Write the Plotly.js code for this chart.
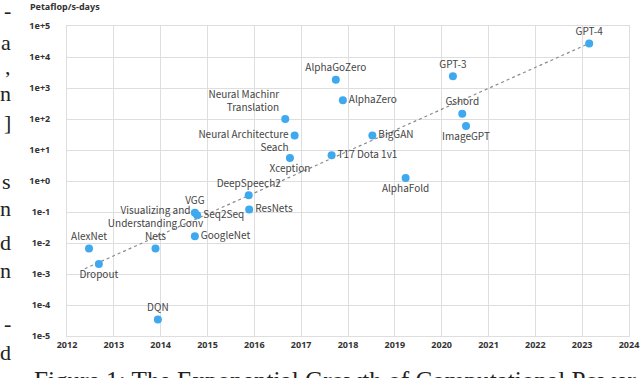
<!DOCTYPE html>
<html>
<head>
<meta charset="utf-8">
<script src="https://cdn.plot.ly/plotly-3.0.1.min.js"></script>
<style>
  html, body { margin: 0; padding: 0; background: #fff; }
  #chart { width: 640px; height: 378px; }
</style>
</head>
<body>
<div id="chart"></div>
<script>
"use strict"

// models
var models = ['AlexNet', 'Dropout', 'Visualizing and<br>Understanding Conv<br>Nets', 'DQN', 'VGG',
	'Seq2Seq', 'GoogleNet', 'DeepSpeech2', 'ResNets', 'Neural Machinr<br>Translation', 'Xception',
	'&#160;<br>Neural Architecture<br>Seach', 'T17 Dota 1v1', 'AlphaGoZero', 'AlphaZero', 'BigGAN',
	'AlphaFold', 'GPT-3', 'Gshord', 'ImageGPT', 'GPT-4'];
var years = [2012.47, 2012.68, 2013.89, 2013.94, 2014.73,
	2014.78, 2014.73, 2015.88, 2015.89, 2016.66, 2016.76,
	2016.86, 2017.65, 2017.74, 2017.89, 2018.52,
	2019.23, 2020.24, 2020.44, 2020.52, 2023.15];
var petaflopDays = [0.0066, 0.0021, 0.0066, 3.4e-5, 0.095,
	0.078, 0.0166, 0.35, 0.12, 100, 5.5,
	29.6, 6.8, 1860, 400, 29.6,
	1.25, 2400, 147, 59, 27500];
var labelPos = ['top center', 'bottom center', 'top center', 'top center', 'top center',
	'middle right', 'middle right', 'top center', 'middle right', 'top left', 'bottom center',
	'middle left', 'middle right', 'top center', 'middle right', 'middle right',
	'bottom center', 'top center', 'top center', 'bottom center', 'top center'];

// dotted trend line end points
var trendYears = [2012.38, 2023.15];
var trendValues = [0.00148, 27500];

var yearTicks = [2012, 2013, 2014, 2015, 2016, 2017, 2018, 2019, 2020, 2021, 2022, 2023, 2024];
var powerTicks = [1e-5, 1e-4, 1e-3, 1e-2, 1e-1, 1, 10, 100, 1000, 1e4, 1e5];
var powerLabels = ['1e-5', '1e-4', '1e-3', '1e-2', '1e-1', '1e+0', '1e+1', '1e+2', '1e+3', '1e+4', '1e+5'];

// fragments of the surrounding paper page
var sideChars = ['-', 'a', ',', 'n', ']', 's', 'n', 'd', 'n', '-', 'd'];
var sideCharY = [10, 42, 66, 93, 122, 182, 208, 242, 270, 323, 352];
var caption = 'Figure 1: The Exponential Growth of Computational Power';

var plotTop = 26, plotBottom = 336, plotLeft = 67, plotRight = 629;
function paperY(py){ return (plotBottom - py) / (plotBottom - plotTop); }
function paperX(px){ return (px - plotLeft) / (plotRight - plotLeft); }

var trend = {
	x: trendYears,
	y: trendValues,
	mode: 'lines',
	type: 'scatter',
	line: {color: '#8a8a8a', width: 1.2, dash: 'dot'},
	hoverinfo: 'skip'
};

var points = {
	x: years,
	y: petaflopDays,
	text: models,
	mode: 'markers+text',
	type: 'scatter',
	textposition: labelPos,
	cliponaxis: false,
	marker: {color: '#3fa9f0', size: 8},
	textfont: {family: 'Noto Sans CJK SC, Noto Sans, sans-serif', size: 10, color: '#444'}
};

var annotations = [];
for(var i=0;i<sideChars.length;i++){
	annotations.push({
		xref: 'paper', yref: 'paper',
		x: paperX(13), y: paperY(sideCharY[i]),
		xanchor: 'right', yanchor: 'middle',
		text: sideChars[i], showarrow: false,
		font: {family: 'Liberation Serif, serif', size: 22, color: '#222'}
	});
}
annotations.push({
	xref: 'paper', yref: 'paper',
	x: paperX(32), y: paperY(365),
	xanchor: 'left', yanchor: 'top',
	text: caption, showarrow: false,
	font: {family: 'Liberation Serif, serif', size: 25.2, color: '#222'}
});

var gridColor = '#dedede';
var layout = {
	width: 640,
	height: 378,
	margin: {l: plotLeft, r: 640 - plotRight, t: plotTop, b: 378 - plotBottom, pad: 0},
	paper_bgcolor: '#fff',
	plot_bgcolor: '#fff',
	showlegend: false,
	title: {
		text: '<b>Petaflop/s-days</b>',
		x: 30 / 640, xanchor: 'left', xref: 'container',
		y: 1 - 7 / 378, yanchor: 'middle', yref: 'container',
		font: {family: 'Noto Sans, sans-serif', size: 9, color: '#333'}
	},
	xaxis: {
		range: [2012, 2024],
		tickvals: yearTicks,
		ticktext: yearTicks.map(String),
		showgrid: true, gridcolor: gridColor, gridwidth: 1,
		showline: true, mirror: true, linecolor: gridColor,
		zeroline: false,
		ticks: '',
		tickfont: {family: 'Noto Sans, sans-serif', size: 9, color: '#333', weight: 'bold'}
	},
	yaxis: {
		type: 'log',
		range: [-5, 5],
		tickvals: powerTicks,
		ticktext: powerLabels,
		showgrid: true, gridcolor: gridColor, gridwidth: 1,
		showline: true, mirror: true, linecolor: gridColor,
		zeroline: false,
		ticks: '',
		ticklabelstandoff: 14,
		tickfont: {family: 'Noto Sans, sans-serif', size: 9, color: '#333', weight: 'bold'}
	},
	annotations: annotations
};

Plotly.newPlot('chart', [trend, points], layout, {staticPlot: true});
</script>
</body>
</html>
